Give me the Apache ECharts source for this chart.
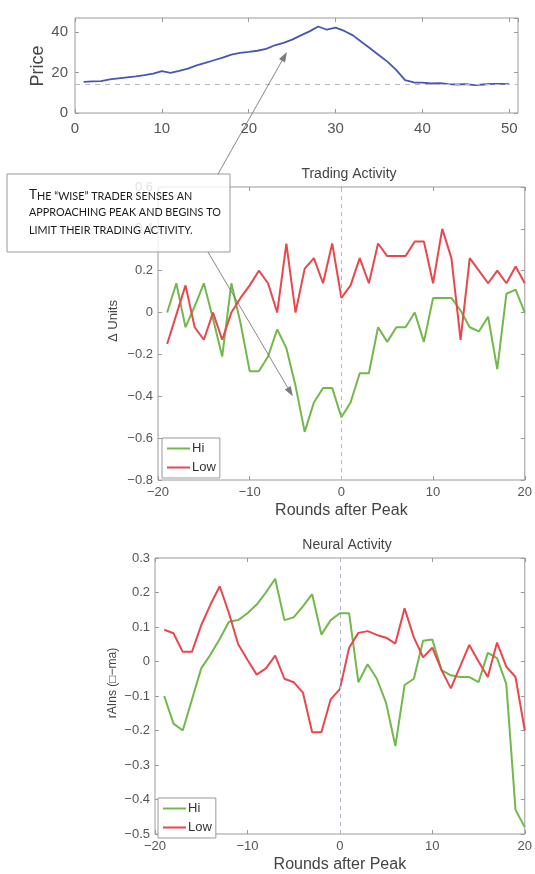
<!DOCTYPE html>
<html>
<head>
<meta charset="utf-8">
<script src="https://cdn.jsdelivr.net/npm/echarts@6/dist/echarts.min.js"></script>
<style>
html, body { margin: 0; padding: 0; background: #fff; }
#chart { width: 535px; height: 874px; }
</style>
</head>
<body>
<div id="chart"></div>
<script>
'use strict';

// top panel: price per round
var priceRounds = [1, 2, 3, 4, 5, 6, 7, 8, 9, 10, 11, 12, 13, 14, 15, 16, 17, 18, 19, 20,
    21, 22, 23, 24, 25, 26, 27, 28, 29, 30, 31, 32, 33, 34, 35, 36, 37, 38, 39, 40,
    41, 42, 43, 44, 45, 46, 47, 48, 49, 50];
var price = [15.4, 15.6, 15.8, 16.6, 17.1, 17.6, 18.1, 18.7, 19.5, 20.7, 19.9, 20.8, 22, 23.6, 24.8, 26.1, 27.4, 28.9, 29.7, 30.2,
    30.8, 31.7, 33.5, 34.7, 36.3, 38.4, 40.4, 42.8, 41.2, 42.2, 40.6, 38.4, 35.1, 31.9, 28.6, 25.3, 21.2, 16.3, 15.1, 15,
    14.6, 14.8, 14.3, 14.1, 14.3, 13.8, 14.1, 14.4, 14.4, 14.3];
var priceBaseline = 14;

// lower panels: rounds relative to the peak
var peakRounds = [-19, -18, -17, -16, -15, -14, -13, -12, -11, -10, -9, -8, -7, -6, -5, -4, -3, -2, -1, 0,
    1, 2, 3, 4, 5, 6, 7, 8, 9, 10, 11, 12, 13, 14, 15, 16, 17, 18, 19, 20];

// Trading Activity (Δ Units)
var tradeHi = [0, 0.14, -0.07, 0.03, 0.14, -0.03, -0.21, 0.14, -0.05, -0.28, -0.28, -0.21, -0.08, -0.17, -0.35, -0.57, -0.43, -0.36, -0.36, -0.5,
    -0.43, -0.29, -0.29, -0.07, -0.14, -0.07, -0.07, 0, -0.14, 0.07, 0.07, 0.07, 0.01, -0.07, -0.09, -0.02, -0.27, 0.09, 0.11, 0];
var tradeLow = [-0.15, -0.01, 0.13, -0.07, -0.13, 0, -0.13, 0, 0.07, 0.13, 0.2, 0.14, 0, 0.33, 0, 0.21, 0.26, 0.14, 0.33, 0.07,
    0.13, 0.26, 0.14, 0.33, 0.27, 0.27, 0.27, 0.34, 0.34, 0.14, 0.4, 0.26, -0.13, 0.26, 0.2, 0.14, 0.2, 0.14, 0.22, 0.14];

// Neural Activity (rAIns)
var neuralHi = [-0.1, -0.18, -0.2, -0.11, -0.02, 0.02, 0.065, 0.115, 0.12, 0.14, 0.165, 0.2, 0.24, 0.12, 0.128, 0.16, 0.195, 0.078, 0.12, 0.14,
    0.14, -0.06, -0.008, -0.05, -0.12, -0.245, -0.068, -0.05, 0.06, 0.064, -0.025, -0.04, -0.045, -0.045, -0.06, 0.025, 0.01, -0.065, -0.43, -0.48];
var neuralLow = [0.092, 0.082, 0.028, 0.028, 0.105, 0.165, 0.218, 0.14, 0.05, 0.005, -0.038, -0.02, 0.017, -0.05, -0.06, -0.09, -0.205, -0.205, -0.11, -0.08,
    0.04, 0.083, 0.088, 0.077, 0.069, 0.052, 0.154, 0.07, 0.012, 0.04, -0.025, -0.078, -0.015, 0.048, 0, -0.045, 0.055, -0.015, -0.045, -0.2];

var font = 'Liberation Sans';
var frameGray = '#9a9a9a';
var labelGray = '#555';
var hiGreen = '#72b84c';
var lowRed = '#e8474c';

function pairs(xs, ys) {
    return xs.map(function (x, i) { return [x, ys[i]]; });
}

function minus(v) {
    return String(v).replace('-', '\u2212');
}

// one bottom/left axis with labels plus a mirrored top/right axis with ticks only
function axisBase(g, min, max, interval) {
    return {
        type: 'value', gridIndex: g, min: min, max: max, interval: interval,
        axisLine: { show: false, onZero: false }, splitLine: { show: false },
        axisTick: { inside: true, length: 4, lineStyle: { color: frameGray } }
    };
}

function xAxes(g, min, max, interval, fontSize, margin, name) {
    var bottom = echarts.util.merge({
        position: 'bottom',
        axisLabel: { color: labelGray, fontFamily: font, fontSize: fontSize, margin: margin, formatter: minus, showMaxLabel: max % interval === 0 }
    }, axisBase(g, min, max, interval), true);
    if (name) {
        bottom.name = name;
        bottom.nameLocation = 'middle';
        bottom.nameGap = 23;
        bottom.nameTextStyle = { color: '#444', fontFamily: font, fontSize: 16 };
    }
    var top = echarts.util.merge({ position: 'top', axisLabel: { show: false } }, axisBase(g, min, max, interval), true);
    return [bottom, top];
}

function yAxes(g, min, max, interval, fontSize, margin) {
    var left = echarts.util.merge({
        position: 'left',
        axisLabel: { color: labelGray, fontFamily: font, fontSize: fontSize, margin: margin, formatter: minus }
    }, axisBase(g, min, max, interval), true);
    var right = echarts.util.merge({ position: 'right', axisLabel: { show: false } }, axisBase(g, min, max, interval), true);
    return [left, right];
}

var zeroLine = {
    silent: true, symbol: ['none', 'none'], label: { show: false },
    lineStyle: { type: [4, 4], color: '#aeb6d2', width: 1 },
    data: [{ xAxis: 0 }]
};

var legendBase = {
    data: ['Hi', 'Low'], orient: 'vertical', icon: 'rect',
    itemWidth: 23, itemHeight: 2, itemGap: 6, padding: [4, 4, 4, 5],
    borderColor: frameGray, borderWidth: 1, backgroundColor: '#fff',
    textStyle: { color: '#333', fontFamily: font, fontSize: 13, padding: [0, 0, 0, -3] }
};

var myChart = echarts.init(document.getElementById('chart'));

var option = {
    animation: false,
    backgroundColor: '#fff',
    title: [
        { text: 'Trading Activity', left: 344, top: 162, textAlign: 'center',
            textStyle: { color: '#444', fontFamily: font, fontSize: 14, fontWeight: 'normal' } },
        { text: 'Neural Activity', left: 342, top: 533, textAlign: 'center',
            textStyle: { color: '#444', fontFamily: font, fontSize: 14, fontWeight: 'normal' } }
    ],
    legend: [
        echarts.util.merge({ left: 162, top: 438 }, legendBase, true),
        echarts.util.merge({ left: 158, top: 798 }, legendBase, true)
    ],
    grid: [
        { left: 75, top: 18, width: 443, height: 95, show: true, borderColor: frameGray, borderWidth: 1 },
        { left: 158, top: 187, width: 372, height: 293, show: true, borderColor: frameGray, borderWidth: 1 },
        { left: 155, top: 558, width: 373, height: 282, show: true, borderColor: frameGray, borderWidth: 1 }
    ],
    xAxis: [].concat(
        xAxes(0, 0, 51, 10, 15, 8),
        xAxes(1, -20, 20, 10, 13, 6, 'Rounds after Peak'),
        xAxes(2, -20, 20, 10, 13, 6, 'Rounds after Peak')
    ),
    yAxis: [].concat(
        yAxes(0, 0, 47, 20, 15, 7),
        yAxes(1, -0.8, 0.6, 0.2, 13, 5),
        yAxes(2, -0.5, 0.3, 0.1, 13, 5)
    ),
    series: [
        {
            name: 'Price', type: 'line', xAxisIndex: 0, yAxisIndex: 0,
            data: pairs(priceRounds, price), symbol: 'none',
            lineStyle: { color: '#4756b2', width: 1.8 }, itemStyle: { color: '#4756b2' },
            markLine: {
                silent: true, symbol: ['none', 'none'], label: { show: false },
                lineStyle: { type: [5, 5], color: '#b4b8c8', width: 1 },
                data: [{ yAxis: priceBaseline }]
            }
        },
        {
            name: 'Hi', type: 'line', xAxisIndex: 2, yAxisIndex: 2,
            data: pairs(peakRounds, tradeHi), symbol: 'none',
            lineStyle: { color: hiGreen, width: 2 }, itemStyle: { color: hiGreen },
            markLine: zeroLine
        },
        {
            name: 'Low', type: 'line', xAxisIndex: 2, yAxisIndex: 2,
            data: pairs(peakRounds, tradeLow), symbol: 'none',
            lineStyle: { color: lowRed, width: 2 }, itemStyle: { color: lowRed }
        },
        {
            name: 'Hi', type: 'line', xAxisIndex: 4, yAxisIndex: 4,
            data: pairs(peakRounds, neuralHi), symbol: 'none',
            lineStyle: { color: hiGreen, width: 2 }, itemStyle: { color: hiGreen },
            markLine: zeroLine
        },
        {
            name: 'Low', type: 'line', xAxisIndex: 4, yAxisIndex: 4,
            data: pairs(peakRounds, neuralLow), symbol: 'none',
            lineStyle: { color: lowRed, width: 2 }, itemStyle: { color: lowRed }
        }
    ]
};
myChart.setOption(option);

// annotation: callout box with two arrows pointing into the data
function arrow(from, to) {
    var dx = to[0] - from[0], dy = to[1] - from[1];
    var len = Math.sqrt(dx * dx + dy * dy);
    var ux = dx / len, uy = dy / len;
    var hl = 10, hw = 3.5;
    var bx = to[0] - ux * hl, by = to[1] - uy * hl;
    return [
        { type: 'line', z: 100, shape: { x1: from[0], y1: from[1], x2: bx, y2: by },
            style: { stroke: '#6a6a6a', lineWidth: 0.8 } },
        { type: 'polygon', z: 100,
            shape: { points: [to, [bx - uy * hw, by + ux * hw], [bx + uy * hw, by - ux * hw]] },
            style: { fill: '#7a7a7a' } }
    ];
}

var upTip = myChart.convertToPixel({ seriesIndex: 0 }, [24.4, 30.2]);
var lowTip = myChart.convertToPixel({ seriesIndex: 1 }, [-5.3, -0.4]);

var noteRich = {
    b: { fontFamily: 'Lato', fontSize: 13.5, fill: '#1a1a1a', verticalAlign: 'bottom' },
    s: { fontFamily: 'Lato', fontSize: 10.8, fill: '#1a1a1a', verticalAlign: 'bottom' }
};
function noteLine(text, y) {
    return {
        type: 'text', z: 101, x: 29, y: y,
        style: { text: text, rich: noteRich, verticalAlign: 'middle', align: 'left' }
    };
}

var graphic = [
    { type: 'text', z: 50, x: 38, y: 66, rotation: Math.PI / 2,
        style: { text: 'Price', fontFamily: font, fontSize: 18, fill: '#444', align: 'center', verticalAlign: 'middle' } },
    { type: 'text', z: 50, x: 113, y: 321, rotation: Math.PI / 2,
        style: { text: '\u0394 Units', fontFamily: font, fontSize: 13, fill: '#444', align: 'center', verticalAlign: 'middle' } },
    { type: 'text', z: 50, x: 113, y: 683, rotation: Math.PI / 2,
        style: { text: 'rAIns (\u25A1\u2212ma)', fontFamily: font, fontSize: 12, fill: '#444', align: 'center', verticalAlign: 'middle' } },
    { type: 'rect', z: 99, shape: { x: 7, y: 174, width: 223, height: 78 },
        style: { fill: 'rgba(255,255,255,0.82)', stroke: '#9a9a9a', lineWidth: 1 } },
    noteLine('{b|T}{s|HE \u201CWISE\u201D TRADER SENSES AN}', 195),
    noteLine('{s|APPROACHING PEAK AND BEGINS TO}', 213),
    noteLine('{s|LIMIT THEIR TRADING ACTIVITY.}', 231)
].concat(arrow([218, 174], upTip), arrow([208, 252], lowTip));

myChart.setOption({ graphic: graphic });
</script>
</body>
</html>
